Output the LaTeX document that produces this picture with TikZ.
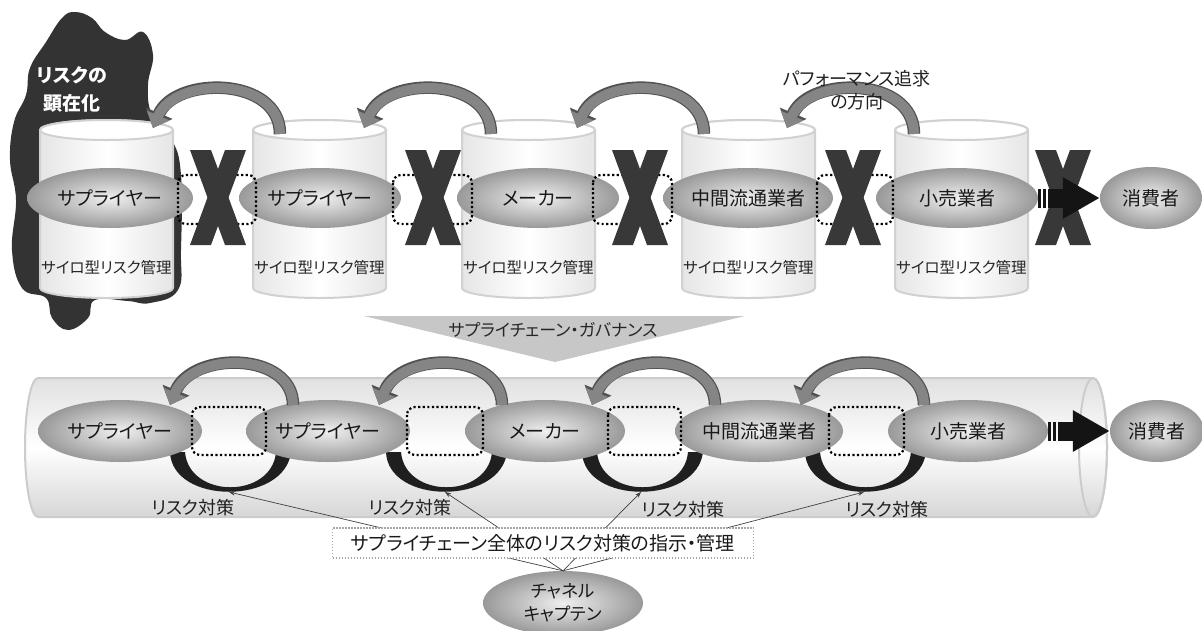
\documentclass[tikz,border=0pt]{standalone}
\usepackage{fontspec}
\setmainfont{Noto Sans CJK JP}[RawFeature=+palt]
\usetikzlibrary{shapes.geometric,arrows.meta}
\newcommand\silo[2]{%
  \path[silobody] (#1-66.5,130) -- (#1-66.5,288) arc[start angle=180,end angle=0,x radius=66.5,y radius=10] -- (#1+66.5,130) arc[start angle=0,end angle=-180,x radius=66.5,y radius=10] -- cycle;
  \draw[siloline,fill=white] (#1,130) ellipse[x radius=66.5,y radius=10];
  \node[silotxt] (#2) at (#1,268) {サイロ型リスク管理};}
\newcommand\garrow[5]{%
  \draw[garrowA] (#1,#2) .. controls (#1,#5) and (#3+22,#5) .. (#3,#4);
  \draw[garrowB] (#1,#2) .. controls (#1,#5) and (#3+22,#5) .. (#3,#4);}
\newcommand\xcross[1]{\begin{scope}[shift={(#1,197.5)}]
  \fill[xcol] (-28,-47.5) -- (-7,-47.5) -- (28,47.5) -- (7,47.5) -- cycle;
  \fill[xcol] (7,-47.5) -- (28,-47.5) -- (-7,47.5) -- (-28,47.5) -- cycle;\end{scope}}
\newcommand\cres[1]{\begin{scope}[shift={(#1,0)}]
  \fill[cresc] (-59,452) .. controls (-57,505) and (56,505) .. (62,452) -- (47,452) .. controls (43,499) and (-40,499) .. (-44,452) -- cycle;\end{scope}}
\begin{document}
\begin{tikzpicture}[x=1pt,y=-1pt,
  ent/.style={ellipse, inner sep=0pt, shade, inner color=black!6, outer color=black!40, text=black!90, font=\fontsize{19}{22}\selectfont, minimum width=162, minimum height=60},
  silobody/.style={left color=black!10, right color=black!10, middle color=white, draw=black!18, line width=2pt},
  siloline/.style={draw=black!18, line width=2pt},
  silotxt/.style={text=black!85, font=\fontsize{15.5}{18}\selectfont},
  garrowA/.style={line width=12.5pt, draw=black!68, -{Triangle[width=28pt,length=16pt]}},
  garrowB/.style={line width=10pt, draw=black!48, -{Triangle[width=24pt,length=13.5pt]}},
  xcol/.style={fill=black!78},
  cresc/.style={fill=black!88},
  dbox/.style={draw=black, line width=2.2pt, dash pattern=on 2.2pt off 2.4pt, rounded corners=8pt},
  fat/.style={line width=19pt, draw=black!92, dash pattern=on 3pt off 2pt on 3pt off 2pt on 300pt, -{Triangle[width=39pt,length=37pt]}},
  lbl/.style={text=black!88, font=\fontsize{18}{23}\selectfont, align=center},
  tarr/.style={draw=black!75, line width=0.7pt, -{Stealth[length=6pt,width=4.5pt]}},
  note/.style={draw=black!35, line width=1.2pt, dash pattern=on 1.4pt off 1.6pt, fill=white, minimum width=421, minimum height=30, inner sep=0pt, text=black!90, font=\fontsize{19}{22}\selectfont},
  blobtxt/.style={text=white, font=\bfseries\fontsize{19}{28}\selectfont, align=center}
]
\useasboundingbox (0,0) rectangle (1202,630);

% ---------- top row ----------
\fill[black!80] plot[smooth cycle, tension=0.7] coordinates {(62,18) (75,12) (92,18) (105,32) (125,40) (143,32) (153,55) (148,85) (152,115) (172,140) (181,175) (181,250) (178,290) (150,303) (128,301) (95,300) (88,318) (68,330) (52,318) (46,298) (22,288) (12,250) (16,200) (10,160) (14,122) (26,95) (30,68) (46,42)};
\node[blobtxt] (risk) at (72,89) {リスクの\\顕在化};

\silo{106.5}{s1}
\silo{319.5}{s2}
\silo{528.5}{s3}
\silo{748.5}{s4}
\silo{961.5}{s5}

\garrow{280}{134}{153}{128}{76}
\garrow{491}{134}{364}{128}{76}
\garrow{704}{134}{577}{128}{76}
\garrow{914}{134}{787}{128}{76}
\node[lbl] (perf) at (857,90) {パフォーマンス追求\\の方向};

\node[ent, minimum width=166] (t1) at (110,198) {サプライヤー};
\node[ent] (t2) at (320,198) {サプライヤー};
\node[ent] (t3) at (538,198) {メーカー};
\node[ent, minimum width=170] (t4) at (748,198) {中間流通業者};
\node[ent] (t5) at (957,198) {小売業者};
\node[ent, minimum width=102, minimum height=62] (tc) at (1151,198) {消費者};

\draw[dbox] (178,175) rectangle (256,224);
\draw[dbox] (393,175) rectangle (472,224);
\draw[dbox] (593,175) rectangle (672,224);
\draw[dbox] (817,175) rectangle (893,224);

\xcross{218}
\xcross{433}
\xcross{640}
\xcross{853}
\xcross{1063}
\draw[fat] (t5.east) -- (tc.west);

% ---------- governance funnel ----------
\fill[black!22] (364,316) -- (745,316) -- (555,362) -- cycle;
\node[text=black!85, font=\fontsize{17}{20}\selectfont] (gov) at (553,330) {サプライチェーン・ガバナンス};

% ---------- bottom row ----------
\path[top color=black!12, bottom color=black!16, middle color=white, draw=black!20, line width=2pt]
  (38,378) -- (1093,378) arc[start angle=-90,end angle=90,x radius=14,y radius=69.5] -- (38,517) arc[start angle=90,end angle=270,x radius=13,y radius=69.5] -- cycle;
\draw[black!20, line width=2pt] (1093,447.5) ellipse[x radius=14,y radius=69.5];

\cres{229}
\cres{445}
\cres{641}
\cres{864}
\coordinate (rb1) at (229,492);
\coordinate (rb2) at (445,492);
\coordinate (rb3) at (641,492);
\coordinate (rb4) at (864,492);

\node[ent, minimum width=164, minimum height=62] (b1) at (120,431) {サプライヤー};
\node[ent, minimum width=164, minimum height=62] (b2) at (328,431) {サプライヤー};
\node[ent, minimum width=160, minimum height=62] (b3) at (545,431) {メーカー};
\node[ent, minimum width=168, minimum height=62] (b4) at (759,431) {中間流通業者};
\node[ent, minimum width=160, minimum height=62] (b5) at (968,431) {小売業者};
\node[ent, minimum width=94, minimum height=62] (bc) at (1157,431) {消費者};

\garrow{293}{405}{170}{405}{351}
\garrow{502}{405}{379}{405}{351}
\garrow{715}{405}{592}{405}{351}
\garrow{924}{405}{801}{405}{351}

\draw[dbox] (192,407) rectangle (266,455);
\draw[dbox] (407,407) rectangle (483,455);
\draw[dbox] (608,407) rectangle (681,455);
\draw[dbox] (829,407) rectangle (904,455);

\draw[fat] (b5.east) -- (bc.west);

\node[lbl] (r1) at (193,508) {リスク対策};
\node[lbl] (r2) at (410,508) {リスク対策};
\node[lbl] (r3) at (683,510) {リスク対策};
\node[lbl] (r4) at (887,510) {リスク対策};

\node[ent, minimum width=160, minimum height=64, align=center, font=\fontsize{17.5}{23}\selectfont] (cap) at (563,603) {チャネル\\キャプテン};
\draw[tarr] (cap.north) -- (rb1);
\draw[tarr] (cap.north) -- (rb2);
\draw[tarr] (cap.north) -- (rb3);
\draw[tarr] (cap.north) -- (rb4);
\node[note] (nt) at (543,543) {サプライチェーン全体のリスク対策の指示・管理};
\end{tikzpicture}
\end{document}
